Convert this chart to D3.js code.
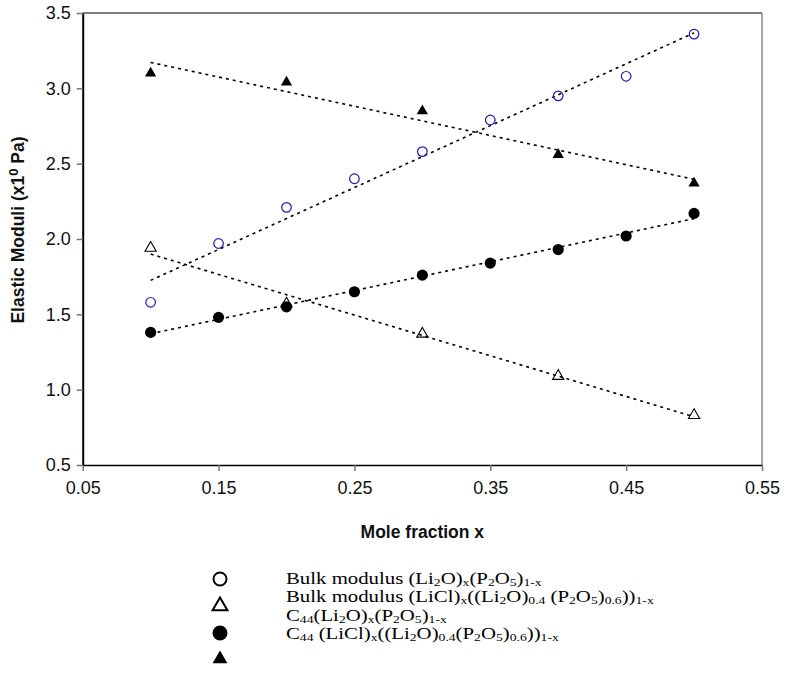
<!DOCTYPE html>
<html>
<head>
<meta charset="utf-8">
<script src="https://cdn.jsdelivr.net/npm/d3@7"></script>
<style>
  body { margin: 0; background: #fff; }
  svg { display: block; }
</style>
</head>
<body>
<svg id="chart" width="785" height="677"></svg>
<script>
// ---- data ----
const xBulkLi2O = [0.10, 0.15, 0.20, 0.25, 0.30, 0.35, 0.40, 0.45, 0.50];
const yBulkLi2O = [1.58, 1.97, 2.21, 2.40, 2.58, 2.79, 2.95, 3.08, 3.36];
const xBulkLiCl = [0.10, 0.20, 0.30, 0.40, 0.50];
const yBulkLiCl = [1.94, 1.57, 1.37, 1.09, 0.83];
const xC44Li2O = [0.10, 0.15, 0.20, 0.25, 0.30, 0.35, 0.40, 0.45, 0.50];
const yC44Li2O = [1.38, 1.48, 1.55, 1.65, 1.76, 1.84, 1.93, 2.02, 2.17];
const xC44LiCl = [0.10, 0.20, 0.30, 0.40, 0.50];
const yC44LiCl = [3.10, 3.04, 2.85, 2.56, 2.37];
const xTicks = [0.05, 0.15, 0.25, 0.35, 0.45, 0.55];
const yTicks = [0.5, 1.0, 1.5, 2.0, 2.5, 3.0, 3.5];
const xTitle = "Mole fraction x";
const legendLabels = [
  "Bulk modulus (Li_{2}O)_{x}(P_{2}O_{5})_{1-x}",
  "Bulk modulus (LiCl)_{x}((Li_{2}O)_{0.4} (P_{2}O_{5})_{0.6}))_{1-x}",
  "C_{44}(Li_{2}O)_{x}(P_{2}O_{5})_{1-x}",
  "C_{44} (LiCl)_{x}((Li_{2}O)_{0.4}(P_{2}O_{5})_{0.6}))_{1-x}"
];

// ---- layout ----
const svg = d3.select("#chart");
const L = 82.7, R = 762, T = 13, B = 465;
const x = d3.scaleLinear().domain([0.05, 0.55]).range([L, R]);
const y = d3.scaleLinear().domain([0.5, 3.5]).range([B, T]);
const blue = "#1c1ca8";

const series = [
  {xs: xBulkLi2O, ys: yBulkLi2O, kind: "circle", fill: "none", stroke: blue},
  {xs: xBulkLiCl, ys: yBulkLiCl, kind: "triangle", fill: "none", stroke: "#000"},
  {xs: xC44Li2O, ys: yC44Li2O, kind: "circle", fill: "#000", stroke: "#000"},
  {xs: xC44LiCl, ys: yC44LiCl, kind: "triangle", fill: "#000", stroke: "#000"}
];

// frame (top + right)
svg.append("line").attr("x1", L).attr("x2", R).attr("y1", T).attr("y2", T)
  .attr("stroke", "#000").attr("stroke-width", 1);
svg.append("line").attr("x1", R).attr("x2", R).attr("y1", T).attr("y2", B)
  .attr("stroke", "#888").attr("stroke-width", 1.5);

// axes
const xAxis = svg.append("g").attr("transform", `translate(0,${B})`)
  .call(d3.axisBottom(x).tickValues(xTicks).tickFormat(d3.format(".2f")).tickSize(6).tickSizeOuter(0));
const yAxis = svg.append("g").attr("transform", `translate(${L},0)`)
  .call(d3.axisLeft(y).tickValues(yTicks).tickFormat(d3.format(".1f")).tickSize(6).tickSizeOuter(0));
xAxis.select(".domain").attr("stroke", "#000").attr("stroke-width", 1.5);
yAxis.select(".domain").attr("stroke", "#000").attr("stroke-width", 2);
xAxis.selectAll(".tick line").attr("stroke", "#777").attr("stroke-width", 1.5);
yAxis.selectAll(".tick line").attr("stroke", "#777").attr("stroke-width", 1.5);
xAxis.selectAll(".tick text").attr("font-family", "Liberation Sans, Arial, sans-serif")
  .attr("font-size", 18).attr("fill", "#111").attr("y", 16);
yAxis.selectAll(".tick text").attr("font-family", "Liberation Sans, Arial, sans-serif")
  .attr("font-size", 18).attr("fill", "#111").attr("x", -12);

// axis titles
svg.append("text").attr("x", (L + R) / 2).attr("y", 538).attr("text-anchor", "middle")
  .attr("font-family", "Liberation Sans, Arial, sans-serif").attr("font-weight", "bold")
  .attr("font-size", 17.5).attr("fill", "#111").text(xTitle);
const yt = svg.append("text").attr("transform", "translate(24,230) rotate(-90)")
  .attr("text-anchor", "middle").attr("font-family", "Liberation Sans, Arial, sans-serif")
  .attr("font-weight", "bold").attr("font-size", 17.5).attr("fill", "#111");
yt.append("tspan").text("Elastic Moduli (x1");
yt.append("tspan").attr("dy", -6).attr("font-size", 13).text("0");
yt.append("tspan").attr("dy", 6).text(" Pa)");

// trend lines (least-squares fit of each series)
function fit(xs, ys) {
  const mx = d3.mean(xs), my = d3.mean(ys);
  const sxy = d3.sum(xs, (v, i) => (v - mx) * (ys[i] - my));
  const sxx = d3.sum(xs, v => (v - mx) * (v - mx));
  const b = sxy / sxx; return {a: my - b * mx, b};
}
const line = d3.line().x(d => x(d[0])).y(d => y(d[1]));
series.forEach(s => {
  const f = fit(s.xs, s.ys);
  const x0 = d3.min(s.xs), x1 = d3.max(s.xs);
  svg.append("path").datum([[x0, f.a + f.b * x0], [x1, f.a + f.b * x1]])
    .attr("d", line).attr("fill", "none").attr("stroke", "#000")
    .attr("stroke-width", 1.6).attr("stroke-dasharray", "3,4");
});

// markers
function drawMarker(g, kind, fill, stroke, cx, cy, big) {
  if (kind === "circle") {
    const r = fill === "none" ? (big ? 6.5 : 4.8) : (big ? 7.5 : 5.6);
    g.append("circle").attr("cx", cx).attr("cy", cy).attr("r", r)
      .attr("fill", fill).attr("stroke", stroke).attr("stroke-width", fill === "none" ? (big ? 2 : 1.2) : 0);
  } else {
    const size = big ? 95 : 55;
    g.append("path").attr("d", d3.symbol(d3.symbolTriangle, size)())
      .attr("transform", `translate(${cx},${cy})`)
      .attr("fill", fill).attr("stroke", stroke).attr("stroke-width", fill === "none" ? (big ? 2 : 1.1) : 0);
  }
}
const mg = svg.append("g");
series.forEach(s => {
  s.xs.forEach((xv, i) => drawMarker(mg, s.kind, s.fill, s.stroke, x(xv), y(s.ys[i]), false));
});

// legend
const legMarkerY = [579, 606, 633, 659];
const legTextY = [583.5, 602, 620.5, 639];
const lg = svg.append("g");
series.forEach((s, i) => drawMarker(lg, s.kind, s.fill, s.kind === "circle" && s.fill === "none" ? "#000" : s.stroke, 220, legMarkerY[i], true));
legendLabels.forEach((lab, i) => {
  const t = lg.append("text").attr("transform", `translate(286,${legTextY[i]}) scale(1.3,1)`)
    .attr("font-family", "Liberation Serif, 'Times New Roman', serif")
    .attr("font-size", 16).attr("fill", "#000");
  const parts = lab.split(/(_\{[^}]*\})/).filter(p => p.length);
  let shifted = false;
  parts.forEach(p => {
    if (p.startsWith("_{")) {
      t.append("tspan").attr("dy", shifted ? 0 : 2).attr("font-size", 10.5).text(p.slice(2, -1));
      shifted = true;
    } else {
      t.append("tspan").attr("dy", shifted ? -2 : 0).text(p);
      shifted = false;
    }
  });
});
</script>
</body>
</html>
